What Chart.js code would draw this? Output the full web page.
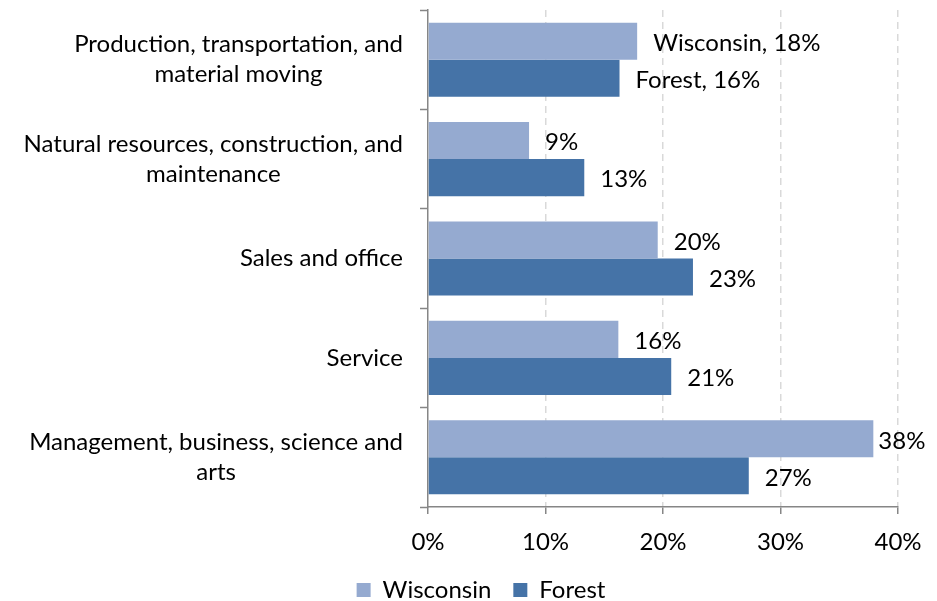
<!DOCTYPE html>
<html>
<head>
<meta charset="utf-8">
<script src="https://cdn.jsdelivr.net/npm/chart.js@4"></script>
<style>
  html, body { margin: 0; padding: 0; background: #fff; }
  #wrap { width: 937px; height: 601px; position: relative; }
</style>
</head>
<body>
<div id="wrap"><canvas id="c"></canvas></div>
<script>
// ---- data ----
const categories = [
  ["Production, transportation, and", "material moving"],
  ["Natural resources, construction, and", "maintenance"],
  ["Sales and office"],
  ["Service"],
  ["Management, business, science and", "arts"]
];
const seriesNames = ["Wisconsin", "Forest"];
const wisconsinValues = [17.8, 8.6, 19.55, 16.2, 37.9];
const forestValues = [16.3, 13.3, 22.55, 20.7, 27.3];
const xTickMax = 40;
const xTickStep = 10;

const FONT = "Lato, 'Open Sans', sans-serif";
const FS = 24;
const colors = ["#95AAD0", "#4573A7"];

const labelPlugin = {
  id: 'customLabels',
  afterDraw(chart) {
    const ctx = chart.ctx;
    ctx.save();
    ctx.font = FS + "px " + FONT;
    ctx.fillStyle = "#000";
    // y category labels: right-aligned block, centered lines
    const yScale = chart.scales.y;
    const rightEdge = 403;
    const lh = 30;
    categories.forEach((lines, i) => {
      const cy = yScale.getPixelForValue(i);
      const maxW = Math.max(...lines.map(l => ctx.measureText(l).width));
      const cx = rightEdge - maxW / 2;
      ctx.textAlign = "center";
      ctx.textBaseline = "middle";
      const y0 = cy - (lines.length - 1) * lh / 2;
      lines.forEach((l, k) => ctx.fillText(l, cx, y0 + k * lh));
    });
    // data labels
    chart.data.datasets.forEach((ds, di) => {
      const meta = chart.getDatasetMeta(di);
      meta.data.forEach((bar, i) => {
        const v = ds.data[i];
        const txt = (i === 0 ? ds.label + ", " : "") + Math.round(v) + "%";
        const w = ctx.measureText(txt).width;
        const x = Math.max(bar.x + 5, Math.min(bar.x + 16, chart.width - 16 - w));
        ctx.textAlign = "left";
        ctx.textBaseline = "middle";
        ctx.fillText(txt, x, bar.y + 2);
      });
    });
    ctx.restore();
  }
};

new Chart(document.getElementById('c'), {
  type: 'bar',
  data: {
    labels: categories.map(c => c.join(' ')),
    datasets: [
      { label: seriesNames[0], data: wisconsinValues, backgroundColor: colors[0], borderWidth: 0,
        categoryPercentage: 0.745, barPercentage: 1.0 },
      { label: seriesNames[1], data: forestValues, backgroundColor: colors[1], borderWidth: 0,
        categoryPercentage: 0.745, barPercentage: 1.0 }
    ]
  },
  options: {
    indexAxis: 'y',
    responsive: true,
    maintainAspectRatio: false,
    animation: false,
    layout: { padding: { top: 10, right: 39, bottom: -11, left: 64 } },
    plugins: {
      legend: {
        position: 'bottom',
        labels: {
          boxWidth: 14, boxHeight: 14, padding: 22,
          color: '#000',
          font: { family: FONT, size: FS }
        }
      },
      tooltip: { enabled: false }
    },
    scales: {
      x: {
        min: 0, max: xTickMax,
        ticks: {
          stepSize: xTickStep,
          color: '#000',
          padding: 14,
          font: { family: FONT, size: FS },
          callback: v => v + '%'
        },
        grid: {
          color: c => (c.tick && c.tick.value === 0) ? 'rgba(0,0,0,0)' : '#D9D9D9',
          lineWidth: 1.5,
          tickColor: '#868686',
          tickLength: 7,
          tickWidth: 1.5
        },
        border: { color: '#868686', width: 1.5, dash: [7, 5] },
        afterFit: s => { s.height = 49; }
      },
      y: {
        ticks: { display: false },
        grid: {
          offset: true,
          drawOnChartArea: false,
          tickColor: '#868686',
          tickLength: 8,
          tickWidth: 1.5
        },
        border: { color: '#868686', width: 1.5 },
        afterFit: s => { s.width = 364; }
      }
    }
  },
  plugins: [labelPlugin]
});
</script>
</body>
</html>
